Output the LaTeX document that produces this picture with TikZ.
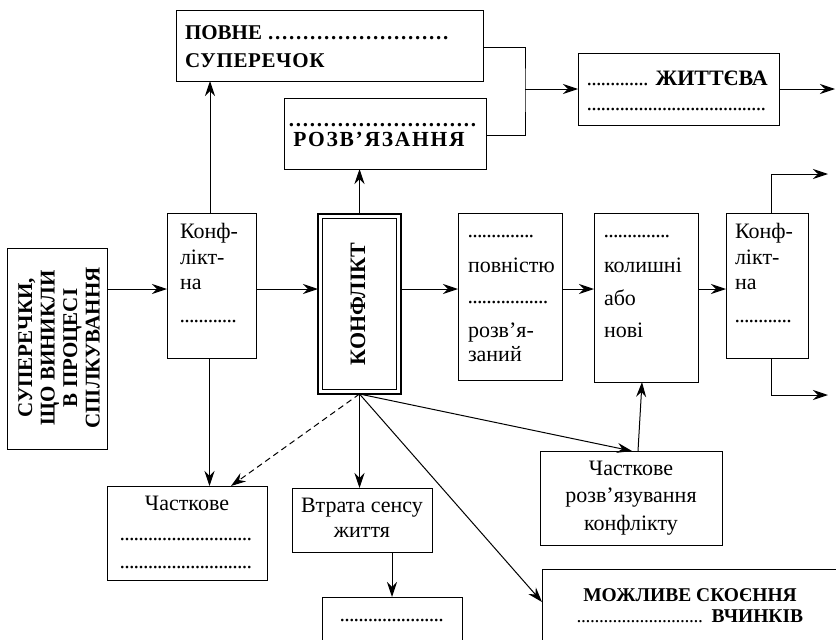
\documentclass[tikz,border=0pt]{standalone}
\usepackage{fontspec}
\setmainfont{Liberation Serif}
\usetikzlibrary{arrows.meta,calc}
\newcommand\dotrow[2]{\hbox to #1{\leaders\hbox to #2{\hss.\hss}\hfill}}
\tikzset{
  box/.style={draw, rectangle, line width=1pt, inner sep=0pt, outer sep=0pt},
  txt/.style={inner sep=0pt, outer sep=0pt, anchor=base west, font={\fontsize{22}{27}\selectfont}},
  ctxt/.style={txt, anchor=base},
  btxt/.style={txt, font={\fontsize{21}{28}\selectfont\bfseries}},
  cbtxt/.style={btxt, anchor=base},
  arr/.style={-{Stealth[length=15pt,width=10pt,inset=5pt]}, line width=1pt},
  ln/.style={line width=1pt},
}
\begin{document}
\begin{tikzpicture}[x=1pt,y=-1pt]
\useasboundingbox (0,0) rectangle (836,640);
\clip (0,0) rectangle (836,640);
% boxes
\node[box, minimum width=307pt, minimum height=71pt] (b1) at (329.5,45.5) {};
\node[box, minimum width=202pt, minimum height=71pt] (b2) at (385,133.5) {};
\node[box, minimum width=201pt, minimum height=72pt] (b3) at (678.5,89) {};
\node[box, minimum width=100pt, minimum height=201pt] (b4) at (57,348.5) {};
\node[box, minimum width=89pt, minimum height=145pt] (b5) at (211.5,285.5) {};
\node[box, line width=2.6pt, minimum width=83pt, minimum height=180pt] (b6) at (359.5,304) {};
\draw[line width=0.7pt] ([shift={(4.5pt,-4.5pt)}]b6.north west) rectangle ([shift={(-4.5pt,4.5pt)}]b6.south east);
\node[box, minimum width=104pt, minimum height=167pt] (b7) at (510,296.5) {};
\node[box, minimum width=104pt, minimum height=169pt] (b8) at (646,297.5) {};
\node[box, minimum width=82pt, minimum height=145pt] (b9) at (767,285.5) {};
\node[box, minimum width=160pt, minimum height=94pt] (b10) at (187,533) {};
\node[box, minimum width=140pt, minimum height=64pt] (b11) at (362,520) {};
\node[box, minimum width=140pt, minimum height=63pt] (b12) at (392,628.5) {};
\node[box, minimum width=182pt, minimum height=94pt] (b13) at (631,498) {};
\node[box, minimum width=308pt, minimum height=91pt] (b14) at (696,614.5) {};
% texts
\node[btxt] (t1a) at (185,39) {ПОВНЕ \dotrow{183pt}{7pt}};
\node[btxt] (t1b) at (185,67) {\addfontfeature{LetterSpace=3}СУПЕРЕЧОК};
\node[btxt] (t2a) at (288,126) {\dotrow{193pt}{7pt}};
\node[cbtxt, font={\fontsize{21.5}{28}\selectfont\bfseries\addfontfeature{LetterSpace=8}}] (t2b) at (379,146) {РОЗВ’ЯЗАННЯ};
\node[txt] (t3a) at (587,85) {\dotrow{63pt}{4.7pt} \bfseries ЖИТТЄВА};
\node[txt] (t3b) at (587,110) {\dotrow{183pt}{4.7pt}};
\node[inner sep=0pt, rotate=90, align=center, font={\fontsize{21}{22.5}\selectfont\bfseries}] (t4) at (59,348) {СУПЕРЕЧКИ,\\ЩО ВИНИКЛИ\\В ПРОЦЕСІ\\СПІЛКУВАННЯ};
\node[inner sep=0pt, rotate=90, font={\fontsize{22}{26}\selectfont\bfseries}] (t6) at (358,304) {КОНФЛІКТ};
\node[txt] (t5a) at (180,238) {Конф-};
\node[txt] (t5b) at (180,264) {лікт-};
\node[txt] (t5c) at (180,289) {на};
\node[txt] (t5d) at (180,322) {\dotrow{60pt}{4.7pt}};
\node[txt] (t9a) at (735,238) {Конф-};
\node[txt] (t9b) at (735,264) {лікт-};
\node[txt] (t9c) at (735,289) {на};
\node[txt] (t9d) at (735,322) {\dotrow{60pt}{4.7pt}};
\node[txt] (t7a) at (468,237) {\dotrow{70pt}{4.7pt}};
\node[txt] (t7b) at (468,272) {повністю};
\node[txt] (t7c) at (468,303) {\dotrow{80pt}{4.7pt}};
\node[txt] (t7d) at (468,337) {розв’я-};
\node[txt] (t7e) at (468,361) {заний};
\node[txt] (t8a) at (604,237) {\dotrow{70pt}{4.7pt}};
\node[txt] (t8b) at (604,272) {колишні};
\node[txt] (t8c) at (604,305) {або};
\node[txt] (t8d) at (604,337) {нові};
\node[ctxt] (t10a) at (187,510) {Часткове};
\node[txt] (t10b) at (120,540) {\dotrow{134pt}{4.7pt}};
\node[txt] (t10c) at (120,568) {\dotrow{134pt}{4.7pt}};
\node[ctxt] (t11a) at (362,512) {Втрата сенсу};
\node[ctxt] (t11b) at (362,537) {життя};
\node[txt] (t12) at (340,621) {\dotrow{105pt}{4.7pt}};
\node[ctxt] (t13a) at (631,475) {Часткове};
\node[ctxt] (t13b) at (631,502) {розв’язування};
\node[ctxt] (t13c) at (631,530) {конфлікту};
\node[cbtxt, font={\fontsize{19.5}{24}\selectfont\bfseries}] (t14a) at (690,601) {МОЖЛИВЕ СКОЄННЯ};
\node[txt, anchor=base, font={\fontsize{19.5}{24}\selectfont}] (t14b) at (690,622) {\dotrow{130pt}{4.5pt} \bfseries ВЧИНКІВ};
% connectors
\coordinate (row) at (0,289);
\coordinate (j) at (525,89);
\coordinate (o1) at (835,89);
\coordinate (o2) at (828,174);
\coordinate (o3) at (828,395);
\draw[arr] (b4.east |- row) -- (b5.west |- row);
\draw[arr] (b5.east |- row) -- (b6.west |- row);
\draw[arr] (b6.east |- row) -- (b7.west |- row);
\draw[arr] (b7.east |- row) -- (b8.west |- row);
\draw[arr] (b8.east |- row) -- (b9.west |- row);
\draw[arr] ([xshift=-1.5pt]b5.north) -- ([xshift=-1.5pt]b5.north |- b1.south);
\draw[arr] ([xshift=-2pt]b5.south) -- ([xshift=-2pt]b5.south |- b10.north);
\draw[arr] (b6.north) -- (b6.north |- b2.south);
\draw[ln] ([yshift=-1.5pt]b1.east) -| (j) |- ([yshift=-1.5pt]b2.east);
\draw[arr] (j) -- (b3.west);
\draw[arr] (b3.east) -- (o1);
\draw[arr] ([xshift=4pt]b9.north) |- (o2);
\draw[arr] ([xshift=4pt]b9.south) |- (o3);
\draw[arr] (b6.south) -- (b6.south |- b11.north);
\draw[arr, dash pattern=on 6pt off 4pt] (b6.south) -- ([xshift=44pt]b10.north);
\draw[arr] (b6.south) -- ([xshift=1pt]b13.north);
\draw[arr] (b6.south) -- ([yshift=12.5pt]b14.west);
\draw[arr] ([xshift=7pt]b13.north) -- ([xshift=-4pt]b8.south);
\draw[arr] (b12.north |- b11.south) -- (b12.north);
\end{tikzpicture}
\end{document}
